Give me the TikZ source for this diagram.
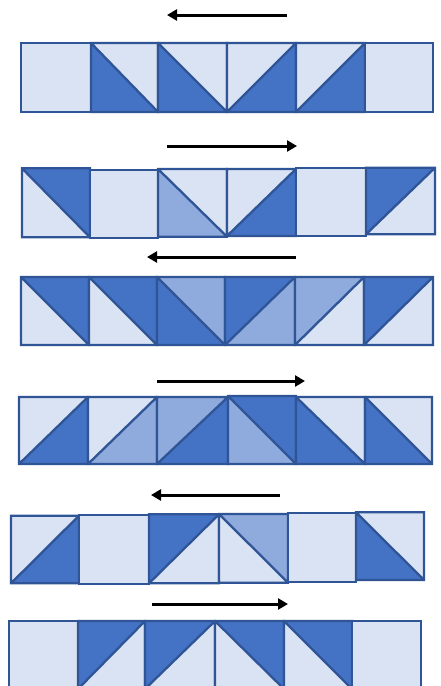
\documentclass[tikz,border=0pt]{standalone}
\usetikzlibrary{arrows.meta}
\definecolor{cL}{RGB}{218,227,243}
\definecolor{cD}{RGB}{68,114,196}
\definecolor{cM}{RGB}{143,170,220}
\definecolor{cE}{RGB}{47,85,151}
\tikzset{
  cellline/.style={draw=cE,line width=2.3pt,line join=miter},
  arr/.style={draw=black,line width=3pt,-{Triangle[length=10pt,width=11pt]}}
}
% plain square
\newcommand\cellP[4]{\filldraw[cellline,fill=cL] (#1,#2) rectangle (#3,#4);}
% diagonal top-left to bottom-right: #5 bottom-left, #6 top-right
\newcommand\cellA[6]{%
  \fill[#5] (#1,#2) -- (#1,#4) -- (#3,#4) -- cycle;
  \fill[#6] (#1,#2) -- (#3,#2) -- (#3,#4) -- cycle;
  \draw[cellline] (#1,#2) rectangle (#3,#4) (#1,#2) -- (#3,#4);}
% diagonal top-right to bottom-left: #5 top-left, #6 bottom-right
\newcommand\cellB[6]{%
  \fill[#5] (#1,#2) -- (#3,#2) -- (#1,#4) -- cycle;
  \fill[#6] (#3,#2) -- (#3,#4) -- (#1,#4) -- cycle;
  \draw[cellline] (#1,#2) rectangle (#3,#4) (#3,#2) -- (#1,#4);}
\begin{document}
\begin{tikzpicture}[x=1pt,y=-1pt]
\useasboundingbox (0,0) rectangle (440,686);
\clip (0,0) rectangle (440,686);
\fill[white] (0,0) rectangle (440,686);
% row 1
\cellP{21}{43}{91}{112}
\cellA{91}{43}{158}{112}{cD}{cL}
\cellA{158}{43}{227}{112}{cD}{cL}
\cellB{227}{43}{296}{112}{cL}{cD}
\cellB{296}{43}{365}{112}{cL}{cD}
\cellP{365}{43}{433}{112}
% row 2
\cellA{22}{168.3}{90}{237.3}{cL}{cD}
\cellP{90}{170}{158}{237.7}
\cellA{158}{169}{227}{236.7}{cM}{cL}
\cellB{227}{169}{296}{236}{cL}{cD}
\cellP{296}{167.7}{366}{236}
\cellB{366}{167.7}{435}{234.3}{cD}{cL}
% row 3
\cellA{21}{277}{89}{345}{cL}{cD}
\cellA{89}{277}{157}{345}{cL}{cD}
\cellA{157}{277}{225}{345}{cD}{cM}
\cellB{225}{277}{295}{345}{cD}{cM}
\cellB{295}{277}{364}{345}{cM}{cL}
\cellB{364}{277}{433}{345}{cD}{cL}
% row 4
\cellB{19}{397}{88}{464}{cL}{cD}
\cellB{88}{397}{157}{464}{cL}{cM}
\cellB{157}{397}{228}{464}{cM}{cD}
\cellA{228}{396}{296}{464}{cM}{cD}
\cellA{296}{397}{365}{464}{cD}{cL}
\cellA{365}{397}{432}{464}{cD}{cL}
% row 5
\cellB{11}{515.7}{79}{583.3}{cL}{cD}
\cellP{79}{515}{149}{584}
\cellB{149}{514.3}{219}{583.3}{cD}{cL}
\cellA{219}{514}{288}{582.7}{cL}{cM}
\cellP{288}{513.3}{356}{581.7}
\cellA{356}{512.3}{424}{580}{cD}{cL}
% row 6
\cellP{9}{621}{78}{689}
\cellB{78}{621}{145}{689}{cD}{cL}
\cellB{145}{621}{215}{689}{cD}{cL}
\cellA{215}{621}{284}{689}{cL}{cD}
\cellA{284}{621}{352}{689}{cL}{cD}
\cellP{352}{621}{421}{689}
% arrows
\coordinate (a1s) at (287,15);  \coordinate (a1e) at (167,15);
\coordinate (a2s) at (167,146); \coordinate (a2e) at (297,146);
\coordinate (a3s) at (296,257); \coordinate (a3e) at (147,257);
\coordinate (a4s) at (157,381); \coordinate (a4e) at (305,381);
\coordinate (a5s) at (280,495); \coordinate (a5e) at (151,495);
\coordinate (a6s) at (152,604); \coordinate (a6e) at (288,604);
\draw[arr] (a1s) -- (a1e);
\draw[arr] (a2s) -- (a2e);
\draw[arr] (a3s) -- (a3e);
\draw[arr] (a4s) -- (a4e);
\draw[arr] (a5s) -- (a5e);
\draw[arr] (a6s) -- (a6e);
\end{tikzpicture}
\end{document}
